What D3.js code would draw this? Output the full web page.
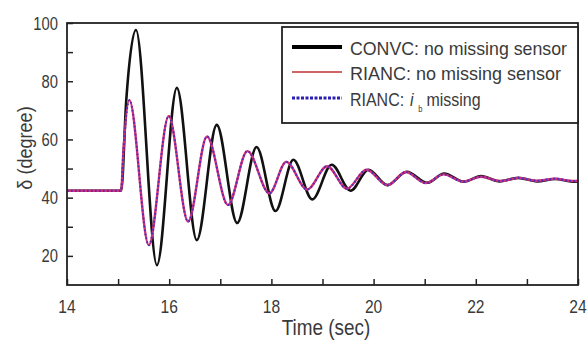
<!DOCTYPE html>
<html><head><meta charset="utf-8">
<script src="https://cdn.jsdelivr.net/npm/d3@7"></script>
<style>html,body{margin:0;padding:0;background:#fff}svg{display:block}text{font-family:"Liberation Sans",Arial,sans-serif;fill:#3a3a3a}</style>
</head><body>
<svg id="c" width="587" height="341"></svg>
<script>
// ---- data ----
const convcTime = [14, 15.06, 15.16, 15.35, 15.76, 16.15, 16.54, 16.93, 17.33, 17.71, 18.08, 18.43, 18.8, 19.18, 19.55, 19.9, 20.27, 20.65, 21.05, 21.38, 21.77, 22.1, 22.47, 22.83, 23.2, 23.55, 23.9, 24];
const convcDelta = [42.4, 42.4, 73.5, 97.6, 16.8, 77.7, 25.4, 65, 31.3, 57.4, 35.4, 53, 39.4, 51.3, 42.4, 49.6, 44.3, 48.9, 45.1, 48.3, 45.5, 47.4, 45.6, 46.8, 45.6, 46.4, 45.5, 45.6];
const riancTime = [14, 15.06, 15.1, 15.22, 15.6, 15.99, 16.37, 16.74, 17.15, 17.53, 17.96, 18.29, 18.7, 19.09, 19.48, 19.86, 20.27, 20.63, 21.02, 21.37, 21.75, 22.1, 22.48, 22.83, 23.2, 23.55, 23.9, 24];
const riancDelta = [42.4, 42.4, 55, 73.5, 23.7, 68, 31.8, 61, 37.5, 56, 41.5, 52.3, 42.8, 50.8, 43.1, 49.6, 44.3, 48.8, 45, 48, 45.5, 47.2, 45.7, 46.8, 45.8, 46.5, 45.7, 45.8];
const missingTime = riancTime;
const missingDelta = riancDelta;
const xTicks = [14, 15, 16, 17, 18, 19, 20, 21, 22, 23, 24];
const xLabels = [14, 16, 18, 20, 22, 24];
const yTicks = [20, 30, 40, 50, 60, 70, 80, 90, 100];
const yLabels = [20, 40, 60, 80, 100];
const legendLabels = ["CONVC: no missing sensor", "RIANC: no missing sensor"];
const legendThird = ["RIANC:", "i", "b", "missing"];

const svg = d3.select("#c");
const L = 67, T = 23, R = 578, B = 285;
const x = d3.scaleLinear().domain([14, 24]).range([L, R]);
const y = d3.scaleLinear().domain([10, 100]).range([B, T]);

// narrow-font emulation: squeeze text horizontally
function narrow(sel, k) {
  sel.each(function () {
    const w = this.getComputedTextLength();
    d3.select(this).attr("textLength", w * (k || 0.82)).attr("lengthAdjust", "spacingAndGlyphs");
  });
}

// axes with inward ticks
svg.append("g").attr("transform", `translate(0,${B})`)
  .call(d3.axisBottom(x).tickValues(xTicks).tickSize(-6).tickFormat(""))
  .call(g => { g.select(".domain").remove(); g.selectAll("line").attr("stroke", "#222").attr("stroke-width", 1.5); });
svg.append("g").attr("transform", `translate(${L},0)`)
  .call(d3.axisLeft(y).tickValues(yTicks).tickSize(-6).tickFormat(""))
  .call(g => { g.select(".domain").remove(); g.selectAll("line").attr("stroke", "#222").attr("stroke-width", 1.5); });

svg.selectAll(".xl").data(xLabels).join("text").attr("class", "xl")
  .attr("x", d => x(d)).attr("y", 313).attr("text-anchor", "middle")
  .attr("font-size", 19).text(d => d).call(narrow);
svg.selectAll(".yl").data(yLabels).join("text").attr("class", "yl")
  .attr("x", 58).attr("y", d => y(d) + 6.5).attr("text-anchor", "end")
  .attr("font-size", 18).text(d => d).call(narrow);

svg.append("text").attr("x", 326).attr("y", 335).attr("text-anchor", "middle")
  .attr("font-size", 22).text("Time (sec)").call(narrow, 0.86);
svg.append("text").attr("transform", "translate(32,148) rotate(-90)").attr("text-anchor", "middle")
  .attr("font-size", 21).text("δ (degree)").call(narrow, 0.86);

// lines
const line = d3.line().x(d => x(d[0])).y(d => y(d[1])).curve(d3.curveMonotoneX);
svg.append("clipPath").attr("id", "clp").append("rect")
  .attr("x", L).attr("y", T).attr("width", R - L).attr("height", B - T);
const plot = svg.append("g").attr("clip-path", "url(#clp)");
plot.append("path").datum(d3.zip(convcTime, convcDelta)).attr("d", line)
  .attr("fill", "none").attr("stroke", "#111").attr("stroke-width", 2.6);
plot.append("path").datum(d3.zip(riancTime, riancDelta)).attr("d", line)
  .attr("fill", "none").attr("stroke", "#d0307a").attr("stroke-width", 2.4);
plot.append("path").datum(d3.zip(missingTime, missingDelta)).attr("d", line)
  .attr("fill", "none").attr("stroke", "#4a2ab8").attr("stroke-width", 2)
  .attr("stroke-dasharray", "1.6,2.4");

// frame
svg.append("rect").attr("x", L).attr("y", T).attr("width", R - L).attr("height", B - T)
  .attr("fill", "none").attr("stroke", "#222").attr("stroke-width", 1.8);

// legend
const lg = svg.append("g");
lg.append("rect").attr("x", 282).attr("y", 27).attr("width", 296).attr("height", 96)
  .attr("fill", "#fff").attr("stroke", "#222").attr("stroke-width", 1.8);
const rows = [47, 72, 98];
lg.append("line").attr("x1", 292).attr("x2", 342).attr("y1", rows[0]).attr("y2", rows[0])
  .attr("stroke", "#000").attr("stroke-width", 4);
lg.append("line").attr("x1", 292).attr("x2", 342).attr("y1", rows[1]).attr("y2", rows[1])
  .attr("stroke", "#c03030").attr("stroke-width", 1.3);
lg.append("line").attr("x1", 292).attr("x2", 342).attr("y1", rows[2]).attr("y2", rows[2])
  .attr("stroke", "#2a1fb0").attr("stroke-width", 3).attr("stroke-dasharray", "3,1.5");
lg.append("text").attr("x", 350).attr("y", rows[0] + 7.5).attr("font-size", 19)
  .attr("textLength", 217).attr("lengthAdjust", "spacingAndGlyphs").text(legendLabels[0]);
lg.append("text").attr("x", 350).attr("y", rows[1] + 7.5).attr("font-size", 19)
  .attr("textLength", 211).attr("lengthAdjust", "spacingAndGlyphs").text(legendLabels[1]);
// third row: "RIANC: i_b missing" as separate pieces
let cx = 350;
const by = rows[2] + 7.5;
const p1 = lg.append("text").attr("x", cx).attr("y", by).attr("font-size", 19).text(legendThird[0]);
narrow(p1, 0.84); cx += +p1.attr("textLength") + 6;
const p2 = lg.append("text").attr("x", cx).attr("y", by).attr("font-size", 19).attr("font-style", "italic").text(legendThird[1]);
narrow(p2, 0.84); cx += p2.node().getBBox().width + 4;
const p3 = lg.append("text").attr("x", cx).attr("y", by + 6).attr("font-size", 9).text(legendThird[2]);
narrow(p3, 0.84); cx += +p3.attr("textLength") + 4;
const p4 = lg.append("text").attr("x", cx).attr("y", by).attr("font-size", 19).text(legendThird[3]);
narrow(p4, 0.84);
</script>
</body></html>
